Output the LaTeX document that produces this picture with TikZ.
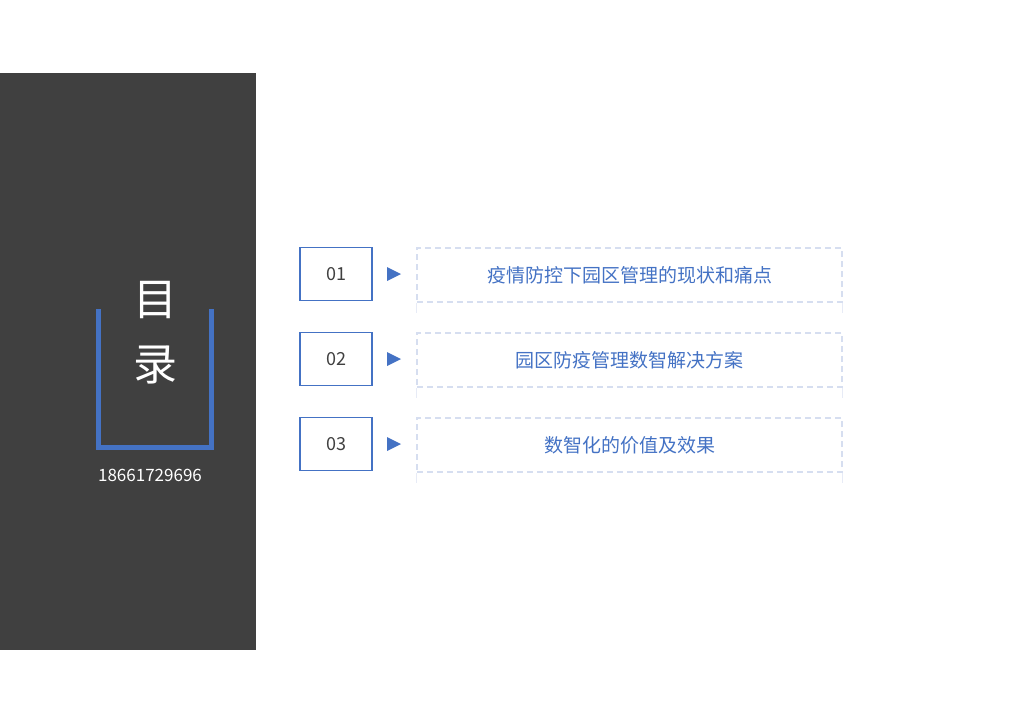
\documentclass[tikz,border=0pt]{standalone}
\usepackage{fontspec}
\setmainfont{Noto Sans CJK SC}
\usetikzlibrary{positioning}
\definecolor{darkpanel}{RGB}{64,64,64}
\definecolor{itemblue}{RGB}{68,114,196}
\definecolor{dashblue}{RGB}{214,222,240}
\tikzset{numbox/.style={draw=itemblue, line width=1.6pt, minimum width=72pt, minimum height=53pt, inner sep=0pt, font=\fontsize{18}{18}\selectfont, text=darkpanel},
titlebox/.style={draw=dashblue, dashed, dash pattern=on 6pt off 4pt, line width=1.5pt, minimum width=425pt, minimum height=54pt, inner sep=0pt, font=\fontsize{19}{19}\selectfont, text=itemblue},
arrowtip/.style={fill=itemblue}}

\begin{document}
\begin{tikzpicture}[x=1pt, y=-1pt]
        \useasboundingbox (0,0) rectangle (1024,724);
        % Left panel
        \fill[darkpanel] (0,73) rectangle (256,650);
        \draw[itemblue, line width=5pt] (98.5,309) -- (98.5,447.5) -- (211.5,447.5) -- (211.5,309);
        \node[text=white, font=\fontsize{44}{44}\selectfont] (mu) at (155,300) {目};
        \node[text=white, font=\fontsize{44}{44}\selectfont] (lu) at (155,365) {录};
        \node[text=white, font=\fontsize{17}{17}\selectfont] (phone) at (150,475) {18661729696};
        % Items
        \foreach \i/\y/\ttext in {
            1/274/疫情防控下园区管理的现状和痛点,
            2/359/园区防疫管理数智解决方案,
            3/444/数智化的价值及效果} {
            \node[numbox] (num\i) at (336,\y) {0\i};
            \fill[arrowtip] (387,\y-7) -- (401,\y) -- (387,\y+7) -- cycle;
            \node[titlebox] (title\i) at (629.5,\y+1) {\ttext};
            \draw[dashblue!60, line width=1pt] (title\i.south west) -- ++(0,10);
            \draw[dashblue!60, line width=1pt] (title\i.south east) -- ++(0,10);
        }
    \end{tikzpicture}
\end{document}
